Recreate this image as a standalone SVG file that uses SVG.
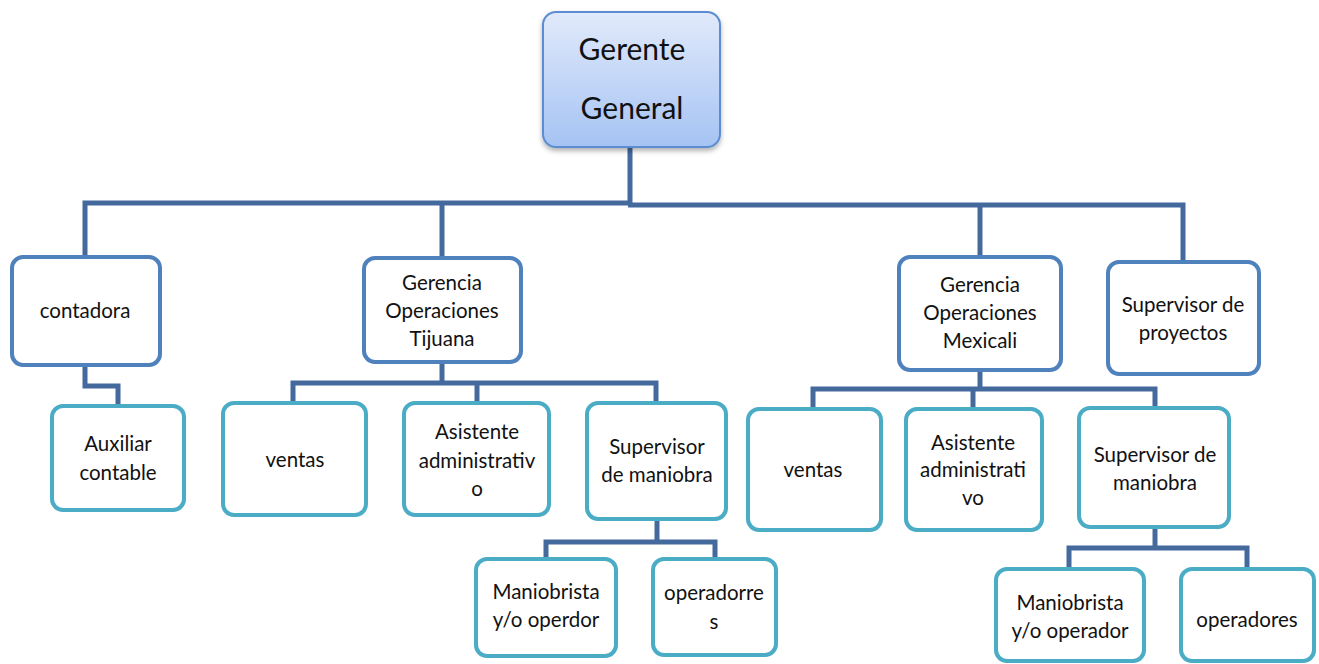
<svg xmlns="http://www.w3.org/2000/svg" width="1319" height="664" viewBox="0 0 1319 664">
<style>
.bg{fill:#ffffff}
.conn{fill:none;stroke:#44699d;stroke-width:5;stroke-linejoin:miter;stroke-linecap:butt}
.lvl1{fill:#ffffff;stroke:#4f81bd;stroke-width:4}
.lvl2{fill:#ffffff;stroke:#4bacc6;stroke-width:4}
.t{font-family:Lato,"Liberation Sans",sans-serif;font-size:20.5px;fill:#111;text-anchor:middle;dominant-baseline:central}
.tb{font-family:Lato,"Liberation Sans",sans-serif;font-size:30px;fill:#111;text-anchor:middle;dominant-baseline:central}
</style>
<defs>
<linearGradient id="gg" x1="0" y1="0" x2="0" y2="1">
<stop offset="0" stop-color="#e1eafb"/>
<stop offset="1" stop-color="#a5c3f3"/>
</linearGradient>
<filter id="sh" x="-10%" y="-10%" width="120%" height="125%">
<feDropShadow dx="0" dy="3" stdDeviation="2.5" flood-color="#000" flood-opacity="0.3"/>
</filter>
</defs>
<rect class="bg" x="0" y="0" width="1319" height="664"/>
<g id="connectors">
<path class="conn" d="M630,147 V204"/>
<path class="conn" d="M85,257 V203 H630"/>
<path class="conn" d="M628,205 H1183 V262"/>
<path class="conn" d="M442,203 V258"/>
<path class="conn" d="M980,205 V257"/>
<path class="conn" stroke-width="4" d="M85,365 V386 H118 V406"/>
<path class="conn" stroke-width="4" d="M442,362 V383"/>
<path class="conn" stroke-width="4" d="M293,403 V383 H656 V403"/>
<path class="conn" stroke-width="4" d="M477,383 V403"/>
<path class="conn" stroke-width="4" d="M657,519 V542"/>
<path class="conn" stroke-width="4" d="M546,559 V542 H715 V559"/>
<path class="conn" stroke-width="4" d="M980,370 V389"/>
<path class="conn" stroke-width="4" d="M813,409 V389 H1155 V408"/>
<path class="conn" stroke-width="4" d="M973,389 V409"/>
<path class="conn" stroke-width="4" d="M1155,527 V548"/>
<path class="conn" stroke-width="4" d="M1069,569 V548 H1247 V569"/>
</g>
<g id="gerente">
<rect x="543" y="12" width="177" height="135" rx="13" fill="url(#gg)" stroke="#5b8dd3" stroke-width="2" filter="url(#sh)"/>
<text class="tb" x="632" y="48">Gerente</text>
<text class="tb" x="632" y="107">General</text>
</g>
<g id="contadora">
<rect class="lvl1" x="12" y="257" width="148" height="108" rx="11"/>
<text class="t" x="85" y="310">contadora</text>
</g>
<g id="auxiliar">
<rect class="lvl2" x="52" y="406" width="132" height="104" rx="11"/>
<text class="t" x="118" y="443">Auxiliar</text>
<text class="t" x="118" y="472">contable</text>
</g>
<g id="tijuana">
<rect class="lvl1" x="364" y="258" width="157" height="104" rx="11"/>
<text class="t" x="442" y="282">Gerencia</text>
<text class="t" x="442" y="310">Operaciones</text>
<text class="t" x="442" y="338">Tijuana</text>
</g>
<g id="ventas-tj">
<rect class="lvl2" x="223" y="403" width="143" height="112" rx="11"/>
<text class="t" x="295" y="459">ventas</text>
</g>
<g id="asistente-tj">
<rect class="lvl2" x="404" y="403" width="145" height="112" rx="11"/>
<text class="t" x="477" y="431">Asistente</text>
<text class="t" x="477" y="460">administrativ</text>
<text class="t" x="477" y="488">o</text>
</g>
<g id="supervisor-tj">
<rect class="lvl2" x="587" y="403" width="139" height="116" rx="11"/>
<text class="t" x="657" y="446">Supervisor</text>
<text class="t" x="657" y="474">de maniobra</text>
</g>
<g id="maniobrista-tj">
<rect class="lvl2" x="476" y="559" width="140" height="97" rx="11"/>
<text class="t" x="546" y="591">Maniobrista</text>
<text class="t" x="546" y="619">y/o operdor</text>
</g>
<g id="operadorres-tj">
<rect class="lvl2" x="653" y="559" width="123" height="96" rx="11"/>
<text class="t" x="714" y="592">operadorre</text>
<text class="t" x="714" y="621">s</text>
</g>
<g id="mexicali">
<rect class="lvl1" x="899" y="257" width="162" height="113" rx="11"/>
<text class="t" x="980" y="284">Gerencia</text>
<text class="t" x="980" y="312">Operaciones</text>
<text class="t" x="980" y="340">Mexicali</text>
</g>
<g id="ventas-mx">
<rect class="lvl2" x="748" y="409" width="133" height="121" rx="11"/>
<text class="t" x="813" y="469">ventas</text>
</g>
<g id="asistente-mx">
<rect class="lvl2" x="906" y="409" width="136" height="121" rx="11"/>
<text class="t" x="973" y="442">Asistente</text>
<text class="t" x="973" y="469">administrati</text>
<text class="t" x="973" y="497">vo</text>
</g>
<g id="supervisor-mx">
<rect class="lvl2" x="1079" y="408" width="150" height="119" rx="11"/>
<text class="t" x="1155" y="454">Supervisor de</text>
<text class="t" x="1155" y="482">maniobra</text>
</g>
<g id="proyectos">
<rect class="lvl1" x="1108" y="262" width="151" height="112" rx="11"/>
<text class="t" x="1183" y="304">Supervisor de</text>
<text class="t" x="1183" y="332">proyectos</text>
</g>
<g id="maniobrista-mx">
<rect class="lvl2" x="996" y="569" width="148" height="92" rx="11"/>
<text class="t" x="1070" y="602">Maniobrista</text>
<text class="t" x="1070" y="630">y/o operador</text>
</g>
<g id="operadores-mx">
<rect class="lvl2" x="1181" y="569" width="133" height="92" rx="11"/>
<text class="t" x="1247" y="619">operadores</text>
</g>
</svg>
